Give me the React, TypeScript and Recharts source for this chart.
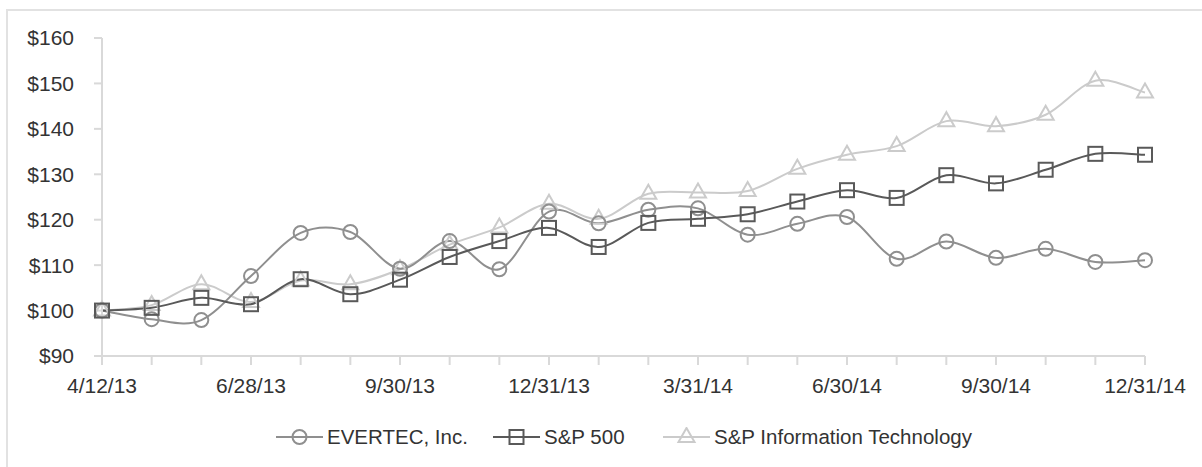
import { LineChart, Line, XAxis, YAxis } from 'recharts';

// categories (quarter-end labels shown every 3rd point)
const dates = [
  '4/12/13', '4/30/13', '5/31/13', '6/28/13', '7/31/13', '8/30/13', '9/30/13',
  '10/31/13', '11/29/13', '12/31/13', '1/31/14', '2/28/14', '3/31/14', '4/30/14',
  '5/30/14', '6/30/14', '7/31/14', '8/29/14', '9/30/14', '10/31/14', '11/28/14', '12/31/14',
];
const tickLabels = ['4/12/13', '6/28/13', '9/30/13', '12/31/13', '3/31/14', '6/30/14', '9/30/14', '12/31/14'];
const yTicks = [90, 100, 110, 120, 130, 140, 150, 160];

const evertec = [100, 98.1, 97.9, 107.6, 117.1, 117.3, 109.2, 115.3, 109.1, 121.8, 119.2, 122.2, 122.5, 116.7, 119.1, 120.6, 111.4, 115.2, 111.6, 113.6, 110.7, 111.1];
const sp500 = [100, 100.6, 102.8, 101.4, 106.9, 103.6, 106.8, 111.8, 115.3, 118.2, 114.0, 119.3, 120.2, 121.2, 124.0, 126.5, 124.8, 129.8, 128.0, 131.0, 134.5, 134.3];
const spIT = [100, 101.2, 105.8, 101.9, 106.6, 105.8, 109.1, 114.5, 118.3, 123.5, 120.2, 125.7, 126.0, 126.3, 131.2, 134.3, 136.2, 141.7, 140.6, 143.1, 150.6, 148.0];

const data = dates.map((d, i) => ({ date: d, evertec: evertec[i], sp500: sp500[i], spIT: spIT[i] }));

const C_EVERTEC = '#8f8f8f';
const C_SP = '#595959';
const C_IT = '#cbcbcb';
const AXIS = '#d9d9d9';
const TEXT = '#333';
const FONT = '"Liberation Sans", Arial, Helvetica, sans-serif';

// excel-like smoothing (catmull-rom style bezier)
// eslint-disable-next-line @typescript-eslint/no-explicit-any
const smooth: any = (ctx: any) => {
  let pts: number[][] = [];
  return {
    areaStart() {},
    areaEnd() {},
    lineStart() {
      pts = [];
    },
    point(x: number, y: number) {
      pts.push([+x, +y]);
    },
    lineEnd() {
      if (!pts.length) return;
      ctx.moveTo(pts[0][0], pts[0][1]);
      for (let i = 0; i < pts.length - 1; i++) {
        const p0 = pts[i - 1] || pts[i];
        const p1 = pts[i];
        const p2 = pts[i + 1];
        const p3 = pts[i + 2] || p2;
        ctx.bezierCurveTo(
          p1[0] + (p2[0] - p0[0]) / 6,
          p1[1] + (p2[1] - p0[1]) / 6,
          p2[0] - (p3[0] - p1[0]) / 6,
          p2[1] - (p3[1] - p1[1]) / 6,
          p2[0],
          p2[1],
        );
      }
    },
  };
};

/* eslint-disable @typescript-eslint/no-explicit-any */
const circleDot = (p: any) => (
  <circle key={`c${p.index}`} cx={p.cx} cy={p.cy} r={7} fill="none" stroke={C_EVERTEC} strokeWidth={2} />
);
const squareDot = (p: any) => (
  <rect key={`s${p.index}`} x={p.cx - 7} y={p.cy - 7} width={14} height={14} fill="none" stroke={C_SP} strokeWidth={2} />
);
const triDot = (p: any) => (
  <polygon
    key={`t${p.index}`}
    points={`${p.cx},${p.cy - 9} ${p.cx - 8},${p.cy + 5} ${p.cx + 8},${p.cy + 5}`}
    fill="none"
    stroke={C_IT}
    strokeWidth={2}
  />
);

function LegendIcon({ kind, color }: { kind: string; color: string }) {
  return (
    <svg width={47} height={20} style={{ display: 'block' }}>
      <line x1={0} y1={10} x2={47} y2={10} stroke={color} strokeWidth={2} />
      {kind === 'circle' && <circle cx={23.5} cy={10} r={7} fill="none" stroke={color} strokeWidth={2} />}
      {kind === 'square' && <rect x={16.5} y={3} width={14} height={14} fill="none" stroke={color} strokeWidth={2} />}
      {kind === 'tri' && <polygon points="23.5,1 15.5,15 31.5,15" fill="none" stroke={color} strokeWidth={2} />}
    </svg>
  );
}

const legendItems = [
  { name: 'EVERTEC, Inc.', kind: 'circle', color: C_EVERTEC, width: 217 },
  { name: 'S&P 500', kind: 'square', color: C_SP, width: 170 },
  { name: 'S&P Information Technology', kind: 'tri', color: C_IT, width: 320 },
];

export default function App() {
  return (
    <div style={{ position: 'absolute', left: 0, top: 0, width: 1202, height: 467, overflow: 'hidden', background: '#fff', fontFamily: FONT }}>
      <div
        style={{
          position: 'absolute',
          left: 6,
          top: 9,
          width: 1196,
          height: 458,
          borderLeft: '2px solid #e2e2e2',
          borderTop: '2px solid #e2e2e2',
          boxSizing: 'border-box',
        }}
      />
      <div style={{ position: 'absolute', left: 0, top: 0 }}>
        <LineChart width={1202} height={467} data={data} margin={{ top: 38, right: 57, bottom: 81, left: 0 }}>
          <XAxis
            dataKey="date"
            interval={0}
            height={30}
            tickSize={9}
            tickMargin={13}
            stroke={AXIS}
            strokeWidth={2}
            tickFormatter={(v: string) => (tickLabels.includes(v) ? v : '')}
            tick={{ fill: TEXT, fontSize: 21, fontFamily: FONT }}
          />
          <YAxis
            domain={[90, 160]}
            ticks={yTicks}
            width={102}
            tickSize={8}
            tickMargin={20}
            stroke={AXIS}
            strokeWidth={2}
            tickFormatter={(v: number) => `$${v}`}
            tick={{ fill: TEXT, fontSize: 21, fontFamily: FONT }}
          />
          <Line dataKey="spIT" type={smooth} stroke={C_IT} strokeWidth={2} dot={triDot} isAnimationActive={false} />
          <Line dataKey="evertec" type={smooth} stroke={C_EVERTEC} strokeWidth={2} dot={circleDot} isAnimationActive={false} />
          <Line dataKey="sp500" type={smooth} stroke={C_SP} strokeWidth={2} dot={squareDot} isAnimationActive={false} />
        </LineChart>
      </div>
      <div style={{ position: 'absolute', left: 276, top: 425, display: 'flex', alignItems: 'center' }}>
        {legendItems.map((it) => (
          <div key={it.name} style={{ width: it.width, display: 'flex', alignItems: 'center' }}>
            <LegendIcon kind={it.kind} color={it.color} />
            <span style={{ marginLeft: 4, fontSize: 20.5, color: TEXT, whiteSpace: 'nowrap' }}>{it.name}</span>
          </div>
        ))}
      </div>
    </div>
  );
}
